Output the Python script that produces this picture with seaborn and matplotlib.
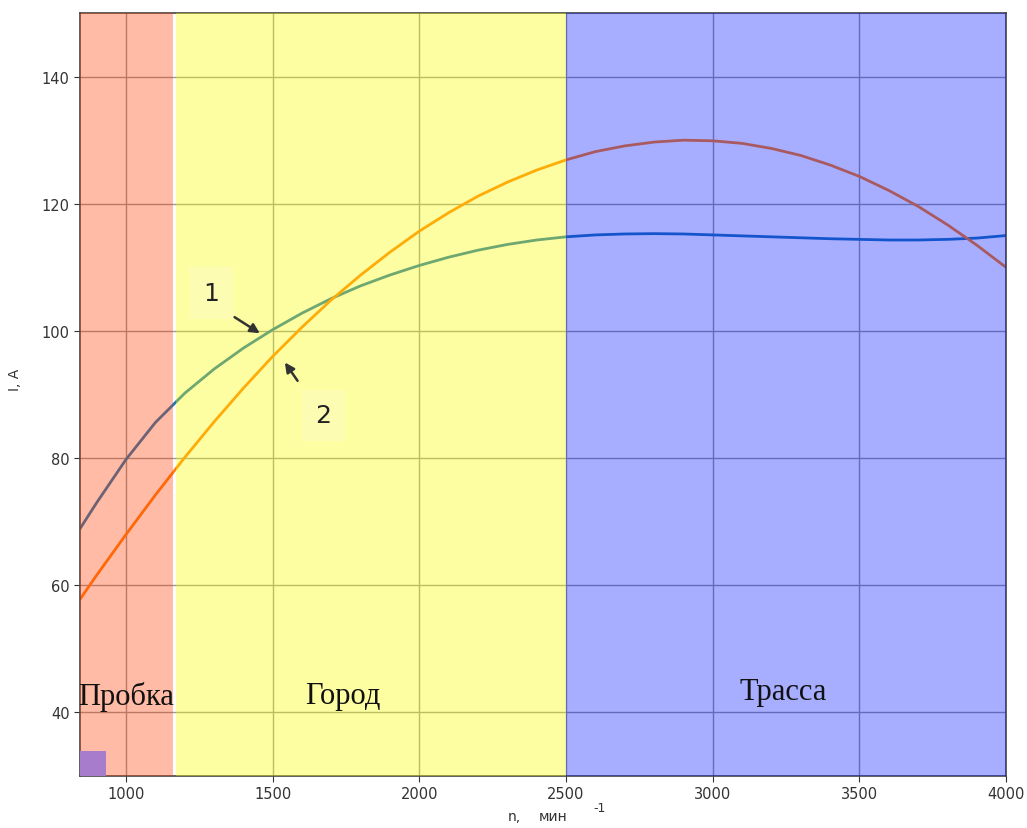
import numpy as np
import pandas as pd
import seaborn as sns
import matplotlib.pyplot as plt
from matplotlib.patches import Rectangle

# частота вращения, мин^-1
n_rpm = [843, 900, 1000, 1100, 1200, 1300, 1400, 1500, 1600, 1700, 1800,
         1900, 2000, 2100, 2200, 2300, 2400, 2500, 2600, 2700, 2800, 2900,
         3000, 3100, 3200, 3300, 3400, 3500, 3600, 3700, 3800, 3900, 4000]
# ток, A (кривая 1)
i_curve1 = [68.9, 73.0, 79.8, 85.6, 90.2, 94.0, 97.3, 100.2, 102.8, 105.1, 107.1,
            108.8, 110.3, 111.6, 112.7, 113.6, 114.3, 114.8, 115.1, 115.25, 115.3, 115.25,
            115.1, 114.95, 114.8, 114.65, 114.5, 114.4, 114.3, 114.3, 114.4, 114.6, 115.0]
# ток, A (кривая 2)
i_curve2 = [57.8, 61.6, 68.0, 74.2, 80.1, 85.7, 91.0, 96.0, 100.6, 104.9, 108.8,
            112.4, 115.7, 118.6, 121.2, 123.4, 125.3, 126.9, 128.2, 129.1, 129.7, 130.0,
            129.9, 129.5, 128.7, 127.6, 126.1, 124.3, 122.1, 119.6, 116.7, 113.5, 110.0]

# режимы движения
zones = ["Пробка", "Город", "Трасса"]
zone_start = [843, 1170, 2500]
zone_end = [1160, 2500, 4000]
zone_colors = [(1.0, 0.24, 0.0), (0.98, 0.98, 0.0), (0.0, 0.08, 1.0)]
zone_alpha = [0.35, 0.37, 0.34]
zone_label_x = [1000, 1740, 3240]
zone_label_y = [42.6, 42.6, 43.3]

df = pd.DataFrame({"n": n_rpm * 2,
                   "I": i_curve1 + i_curve2,
                   "curve": ["1"] * len(n_rpm) + ["2"] * len(n_rpm)})

sns.set_style("whitegrid")
fig = plt.figure(figsize=(10.27, 8.29), dpi=100)
ax = fig.add_axes([0.0779, 0.0627, 0.9017, 0.9204])

sns.lineplot(data=df, x="n", y="I", hue="curve", palette=["#1f77b4", "#ff7f0e"],
             linewidth=2.0, legend=False, ax=ax, zorder=2)

for x0, x1, c, a in zip(zone_start, zone_end, zone_colors, zone_alpha):
    ax.axvspan(x0, x1, color=c, alpha=a, lw=0, zorder=3)

for name, x, y in zip(zones, zone_label_x, zone_label_y):
    ax.text(x, y, name, ha="center", va="center", fontsize=22,
            family="Liberation Serif", color="#111111", zorder=5)

# номера кривых со стрелками
box = dict(boxstyle="square,pad=0.55", fc="#fcfcb2", ec="none")
ax.text(1290, 106.0, "1", ha="center", va="center", fontsize=18,
        color="#222222", bbox=box, zorder=5)
ax.text(1672, 86.7, "2", ha="center", va="center", fontsize=18,
        color="#222222", bbox=box, zorder=5)
arrow = dict(arrowstyle="-|>", color="#333333", lw=1.8, mutation_scale=14)
ax.annotate("", xy=(1464, 99.4), xytext=(1362, 102.4), arrowprops=arrow, zorder=6)
ax.annotate("", xy=(1536, 95.4), xytext=(1590, 91.8), arrowprops=arrow, zorder=6)

ax.add_patch(Rectangle((0, 0), 0.028, 0.033, transform=ax.transAxes,
                       fc="#a87ccc", ec="none", zorder=4))

ax.set_xlim(843, 4000)
ax.set_ylim(30, 150)
ax.set_xticks([1000, 1500, 2000, 2500, 3000, 3500, 4000])
ax.set_yticks([40, 60, 80, 100, 120, 140])
ax.grid(True, color="#999999", lw=1.0)
ax.set_axisbelow(True)
for s in ax.spines.values():
    s.set_color("#444444")
    s.set_linewidth(1.2)
ax.tick_params(axis="both", labelsize=10.5, colors="#333333", length=4,
               direction="out", left=True, bottom=True)
ax.set_xlabel("")
ax.set_ylabel("I, A", fontsize=10, color="#333333")
ax.yaxis.set_label_coords(-0.063, 0.52)

fig.text(0.494, 0.006, "n,", fontsize=10, color="#333333", ha="left", va="bottom")
fig.text(0.525, 0.006, "мин", fontsize=10, color="#333333", ha="left", va="bottom")
fig.text(0.578, 0.017, "-1", fontsize=9, color="#333333", ha="left", va="bottom")

fig.savefig("out.png", dpi=100)
